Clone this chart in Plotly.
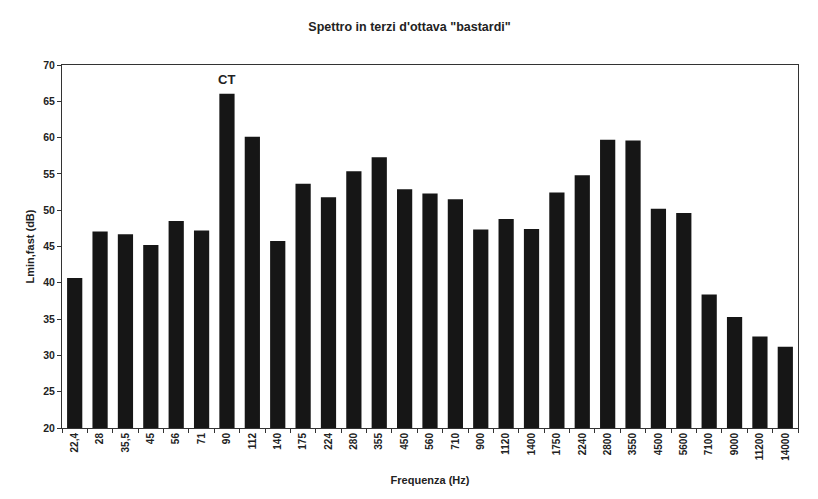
import plotly.graph_objects as go

categories = ["22,4", "28", "35,5", "45", "56", "71", "90", "112", "140", "175",
              "224", "280", "355", "450", "560", "710", "900", "1120", "1400", "1750",
              "2240", "2800", "3550", "4500", "5600", "7100", "9000", "11200", "14000"]
values = [40.65, 47.05, 46.7, 45.2, 48.5, 47.2, 66.05, 60.1, 45.75, 53.65,
          51.8, 55.35, 57.3, 52.9, 52.3, 51.5, 47.35, 48.8, 47.4, 52.45,
          54.8, 59.7, 59.6, 50.2, 49.6, 38.4, 35.3, 32.6, 31.2]
y_ticks = [20, 25, 30, 35, 40, 45, 50, 55, 60, 65, 70]
ct_label = "90"

font_main = "Liberation Sans, Arial, sans-serif"

fig = go.Figure()
fig.add_trace(go.Bar(
    x=categories, y=values,
    marker=dict(color="#161616", line=dict(width=0)),
    width=0.6,
))

ct_idx = categories.index(ct_label)
fig.add_annotation(x=ct_idx, y=values[ct_idx], text="<b>CT</b>", showarrow=False,
                   yshift=14, font=dict(family=font_main, size=13, color="#222"))

fig.update_layout(
    width=810, height=491,
    paper_bgcolor="white", plot_bgcolor="white",
    margin=dict(l=54, r=20, t=57, b=71),
    title=dict(text="<b>Spettro in terzi d'ottava \"bastardi\"</b>",
               x=0.4957, xanchor="center", y=0.963, yanchor="middle",
               font=dict(family=font_main, size=12.5, color="#222")),
    showlegend=False,
)
fig.update_xaxes(
    type="category",
    range=[-0.5, len(categories) - 0.5],
    tickmode="array", tickvals=categories, ticktext=categories,
    tickangle=-90,
    tickfont=dict(family=font_main, size=10, color="#222", weight="bold"),
    ticks="outside", ticklen=4, tickcolor="#333", tickson="boundaries",
    showline=True, linecolor="#333", linewidth=1, mirror=True,
    showgrid=False,
    title=dict(text="<b>Frequenza (Hz)</b>", standoff=16,
               font=dict(family=font_main, size=11, color="#222")),
)
fig.update_yaxes(
    range=[20, 70], tickvals=y_ticks,
    tickfont=dict(family=font_main, size=10.5, color="#222", weight="bold"),
    ticks="outside", ticklen=4, tickcolor="#333",
    showline=True, linecolor="#333", linewidth=1, mirror=True,
    showgrid=False, zeroline=False,
    title=dict(text="<b>Lmin,fast (dB)</b>", standoff=6,
               font=dict(family=font_main, size=11, color="#222")),
)

fig.write_html("out.html")
